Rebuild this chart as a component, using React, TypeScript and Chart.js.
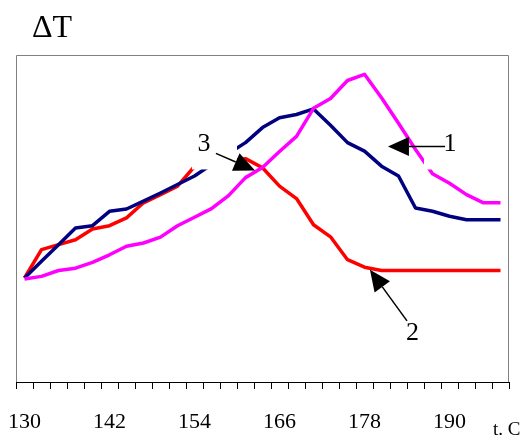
import { useEffect, useRef } from "react";
import { Chart, registerables } from "chart.js";

Chart.register(...registerables);

// Temperature categories (°C); every fifth one is labelled on the axis
const temperatures = [
  130, 132.4, 134.8, 137.2, 139.6, 142, 144.4, 146.8, 149.2, 151.6,
  154, 156.4, 158.8, 161.2, 163.6, 166, 168.4, 170.8, 173.2, 175.6,
  178, 180.4, 182.8, 185.2, 187.6, 190, 192.4, 194.8, 197.2,
];

// ΔT curves
const curve1 = [
  3.18, 3.69, 4.2, 4.71, 4.78, 5.22, 5.29, 5.53, 5.78, 6.04,
  6.3, 6.65, 6.99, 7.32, 7.78, 8.08, 8.18, 8.35, 7.85, 7.32,
  7.06, 6.6, 6.3, 5.32, 5.22, 5.07, 4.96, 4.96, 4.96,
];
const curve2 = [
  3.18, 4.05, 4.2, 4.35, 4.68, 4.78, 5.02, 5.48, 5.73, 5.99,
  6.59, 6.68, 6.77, 6.83, 6.55, 5.99, 5.61, 4.81, 4.44, 3.74,
  3.51, 3.41, 3.41, 3.41, 3.41, 3.41, 3.41, 3.41, 3.41,
];
const curve3 = [
  3.15, 3.23, 3.41, 3.48, 3.66, 3.89, 4.15, 4.25, 4.43, 4.78,
  5.04, 5.3, 5.7, 6.25, 6.56, 7.05, 7.51, 8.37, 8.67, 9.22,
  9.41, 8.69, 7.91, 7.11, 6.37, 6.08, 5.73, 5.48, 5.48,
];

const yMin = 0;
const yMax = 10;

// Callout labels with arrows, in (category index, value) coordinates
const callouts = [
  { text: "3", tx: 10.56, ty: 7.05, from: [11.26, 6.99], to: [13.56, 6.47], box: [9.85, 12.5, 7.78, 6.5] },
  { text: "1", tx: 25.03, ty: 7.05, from: [24.74, 7.2], to: [21.38, 7.2], box: [23.5, 25.97, 7.78, 6.5] },
  { text: "2", tx: 22.82, ty: 1.29, from: [22.5, 1.87], to: [20.32, 3.43], box: null },
];

const serif = "'Liberation Serif', 'Times New Roman', serif";

function drawArrow(ctx: CanvasRenderingContext2D, x0: number, y0: number, x1: number, y1: number) {
  const headLen = 21;
  const headWidth = 19;
  const dx = x1 - x0;
  const dy = y1 - y0;
  const len = Math.hypot(dx, dy);
  const ux = dx / len;
  const uy = dy / len;
  const bx = x1 - ux * headLen;
  const by = y1 - uy * headLen;
  ctx.strokeStyle = "#000";
  ctx.fillStyle = "#000";
  ctx.lineWidth = 1.5;
  ctx.beginPath();
  ctx.moveTo(x0, y0);
  ctx.lineTo(bx, by);
  ctx.stroke();
  ctx.beginPath();
  ctx.moveTo(x1, y1);
  ctx.lineTo(bx - (uy * headWidth) / 2, by + (ux * headWidth) / 2);
  ctx.lineTo(bx + (uy * headWidth) / 2, by - (ux * headWidth) / 2);
  ctx.closePath();
  ctx.fill();
}

const decorations = {
  id: "decorations",
  afterDatasetsDraw(chart: any) {
    const { ctx, chartArea, scales } = chart;
    const px = (i: number) => scales.x.getPixelForValue(i);
    const py = (v: number) => scales.y.getPixelForValue(v);
    ctx.save();

    // plot frame (left, top, right)
    ctx.strokeStyle = "#808080";
    ctx.lineWidth = 1;
    ctx.beginPath();
    ctx.moveTo(chartArea.left + 0.5, chartArea.bottom);
    ctx.lineTo(chartArea.left + 0.5, chartArea.top + 0.5);
    ctx.lineTo(chartArea.right - 0.5, chartArea.top + 0.5);
    ctx.lineTo(chartArea.right - 0.5, chartArea.bottom);
    ctx.stroke();

    // label backgrounds
    ctx.fillStyle = "#fff";
    for (const c of callouts) {
      if (!c.box) continue;
      const [i0, i1, vTop, vBottom] = c.box;
      ctx.fillRect(px(i0), py(vTop), px(i1) - px(i0), py(vBottom) - py(vTop));
    }

    for (const c of callouts) {
      drawArrow(ctx, px(c.from[0]), py(c.from[1]), px(c.to[0]), py(c.to[1]));
      ctx.fillStyle = "#000";
      ctx.font = `26px ${serif}`;
      ctx.textAlign = "center";
      ctx.textBaseline = "alphabetic";
      ctx.fillText(c.text, px(c.tx), py(c.ty));
    }

    // axis captions
    ctx.textAlign = "left";
    ctx.font = `32px ${serif}`;
    ctx.fillText("ΔT", 32, 37);
    ctx.font = `19px ${serif}`;
    ctx.fillText("t. C", 493, 435);
    ctx.restore();
  },
};

export default function App() {
  const canvasRef = useRef<HTMLCanvasElement | null>(null);

  useEffect(() => {
    if (!canvasRef.current) return;
    const line = (data: number[], color: string) => ({
      data,
      borderColor: color,
      backgroundColor: color,
      borderWidth: 3.5,
      pointRadius: 0,
      tension: 0,
      borderJoinStyle: "round" as const,
      fill: false,
    });
    const chart = new Chart(canvasRef.current, {
      type: "line",
      data: {
        labels: temperatures.map(String),
        datasets: [line(curve3, "#FF00FF"), line(curve1, "#000080"), line(curve2, "#FF0000")],
      },
      options: {
        animation: false,
        responsive: false,
        devicePixelRatio: 1,
        layout: { padding: { left: 16, top: 55, right: 11, bottom: 0 } },
        plugins: { legend: { display: false }, tooltip: { enabled: false }, title: { display: false } },
        scales: {
          x: {
            type: "category",
            offset: true,
            grid: {
              display: true,
              offset: true,
              drawOnChartArea: false,
              drawTicks: true,
              tickLength: 7,
              color: "#000",
              lineWidth: 1,
            },
            border: { display: true, color: "#000", width: 1 },
            ticks: {
              autoSkip: false,
              maxRotation: 0,
              minRotation: 0,
              padding: 20,
              color: "#000",
              font: { family: serif, size: 22 },
              callback: (_v: any, i: number) => (i % 5 === 0 ? String(temperatures[i]) : ""),
            },
            afterFit: (scale: any) => {
              scale.height = 54;
              // labels may overhang the plot edges; keep the plot box fixed
              scale.paddingLeft = 0;
              scale.paddingRight = 0;
            },
          },
          y: {
            display: false,
            min: yMin,
            max: yMax,
          },
        },
      },
      plugins: [decorations],
    });
    return () => chart.destroy();
  }, []);

  return (
    <div style={{ position: "fixed", left: 0, top: 0, width: 520, height: 436, background: "#fff" }}>
      <canvas ref={canvasRef} width={520} height={436} />
    </div>
  );
}
